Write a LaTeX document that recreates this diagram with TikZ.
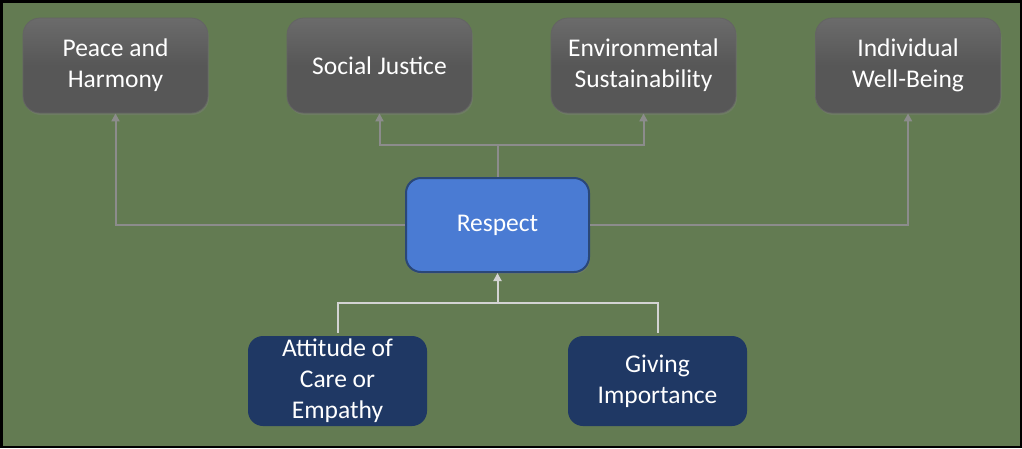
\documentclass[tikz,border=0pt]{standalone}
\usepackage{fontspec}
\setmainfont{Carlito}
\usetikzlibrary{arrows.meta,shadows}
\definecolor{bggreen}{HTML}{637B52}
\definecolor{boxgray}{HTML}{575757}
\definecolor{linegray}{HTML}{8C8C8C}
\definecolor{linelight}{HTML}{D3D3D3}
\definecolor{respblue}{HTML}{4A7BD3}
\definecolor{respedge}{HTML}{2A4778}
\definecolor{navy}{HTML}{1F3864}
\begin{document}
\begin{tikzpicture}[x=1pt,y=-1pt,
    goal/.style={rounded corners=17pt,minimum width=185pt,minimum height=95pt,inner sep=0pt,
        align=center,text=white,top color=boxgray!88!white,bottom color=boxgray,middle color=boxgray,
        draw=boxgray!92!white,line width=.8pt,
        drop shadow={opacity=.35,shadow xshift=1pt,shadow yshift=-2pt}},
    core/.style={rounded corners=15pt,minimum width=183pt,minimum height=94pt,inner sep=0pt,
        text=white,fill=respblue,draw=respedge,line width=2pt,
        drop shadow={opacity=.35,shadow xshift=1pt,shadow yshift=-2pt}},
    root/.style={rounded corners=15pt,minimum width=179pt,minimum height=90pt,inner sep=0pt,
        align=center,text=white,fill=navy},
    conn/.style={draw=linegray,line width=2pt},
    feed/.style={draw=linelight,line width=2pt},
    tip/.style={-{Triangle[width=8pt,length=8pt]}},
    font=\fontsize{25.5}{31}\selectfont]
    \fill[bggreen] (0,0) rectangle (1022,448);
    \draw[black,line width=2.5pt] (1.25,1.25) rectangle (1020.75,446.75);
    % top row
    \node[goal] (peace) at (115.5,65.5) {Peace and\\Harmony};
    \node[goal] (justice) at (379.5,65.5) {Social Justice};
    \node[goal] (env) at (643.5,65.5) {Environmental\\Sustainability};
    \node[goal] (well) at (908,65.5) {Individual\\Well-Being};
    % centre
    \node[core] (respect) at (497.5,225) {Respect};
    % bottom row
    \node[root] (care) at (337.5,381) {Attitude of\\Care or\\Empathy};
    \node[root] (giving) at (657.5,381) {Giving\\Importance};
    \coordinate (topj) at (497.5,145);
    \coordinate (botj) at (497.5,303);
    \draw[conn,tip] (respect.west) -| (peace.south);
    \draw[conn,tip] (respect.east) -| (well.south);
    \draw[conn,tip] (respect.north) -- (topj) -| (justice.south);
    \draw[conn,tip] (topj) -| (env.south);
    \draw[feed,shorten <=3pt] (care.north) |- (botj);
    \draw[feed,shorten <=3pt] (giving.north) |- (botj);
    \draw[feed,tip] (botj) -- (respect.south);
\end{tikzpicture}
\end{document}
